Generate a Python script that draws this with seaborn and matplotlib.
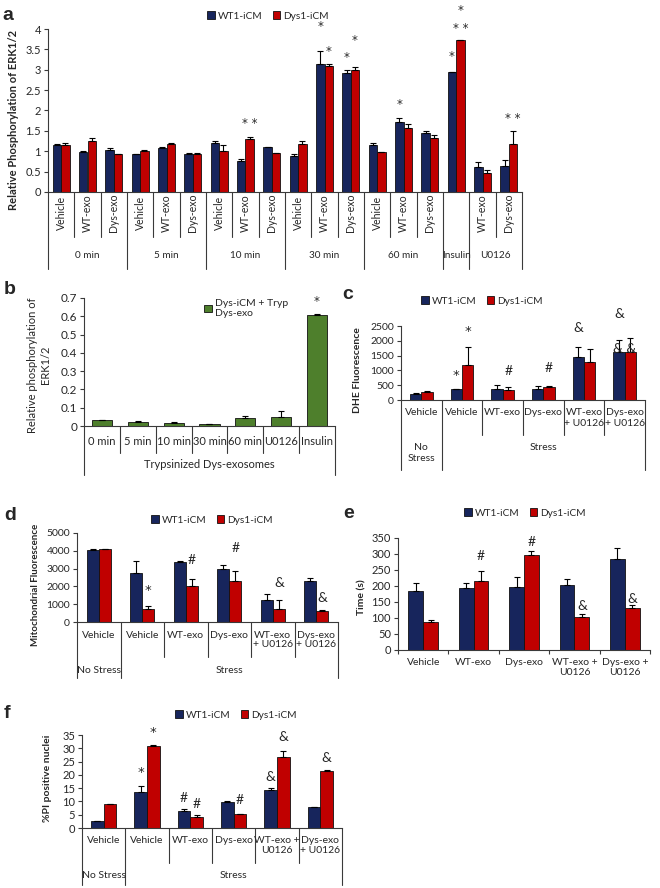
import numpy as np
import pandas as pd
import matplotlib
matplotlib.use("Agg")
import matplotlib.pyplot as plt
import seaborn as sns
from matplotlib.transforms import blended_transform_factory
from matplotlib.lines import Line2D
from matplotlib.ticker import FuncFormatter, FixedLocator, NullFormatter

# ------------------------------------------------------------------ data
SERIES = ["WT1-iCM", "Dys1-iCM"]

# panel a
a_groups = ["0 min", "5 min", "10 min", "30 min", "60 min", "Insulin", "U0126"]
a_group_sizes = [3, 3, 3, 3, 3, 1, 2]
a_sub = ["Vehicle", "WT-exo", "Dys-exo"] * 5 + [""] + ["WT-exo", "Dys-exo"]
a_wt = [1.15, 0.99, 1.03, 0.93, 1.08, 0.94, 1.21, 0.76, 1.10, 0.89, 3.14, 2.93,
        1.16, 1.73, 1.45, 2.94, 0.62, 0.64]
a_wt_err = [0.02, 0.01, 0.04, 0.0, 0.02, 0.01, 0.04, 0.04, 0.01, 0.04, 0.32, 0.07,
            0.04, 0.09, 0.05, 0.01, 0.11, 0.15]
a_dys = [1.15, 1.24, 0.93, 1.01, 1.19, 0.94, 1.01, 1.29, 0.95, 1.17, 3.09, 2.99,
         0.98, 1.58, 1.33, 3.73, 0.46, 1.19]
a_dys_err = [0.05, 0.08, 0.01, 0.01, 0.01, 0.01, 0.15, 0.05, 0.0, 0.08, 0.06, 0.08,
             0.0, 0.08, 0.06, 0.0, 0.08, 0.31]
a_marks = [(7, 1, "* *", 1.75), (10, 0, "*", 4.13), (10, 1, "*", 3.53),
           (11, 0, "*", 3.37), (11, 1, "*", 3.80), (13, 0, "*", 2.22),
           (15, 0, "*", 3.41), (15, 1, "* *", 4.08), (15, 1, "*", 4.54),
           (17, 1, "* *", 1.89)]

# panel b
b_cats = ["0 min", "5 min", "10 min", "30 min", "60 min", "U0126", "Insulin"]
b_series = "Dys-iCM + Tryp\nDys-exo"
b_vals = [0.032, 0.022, 0.017, 0.011, 0.043, 0.048, 0.607]
b_err = [0.003, 0.003, 0.003, 0.002, 0.010, 0.035, 0.003]
b_group = "Trypsinized Dys-exosomes"
b_marks = [(6, 0, "*", 0.695)]

# panels c, d, f share categories
cdf_groups_c = ["No\nStress", "Stress"]
cdf_groups = ["No Stress", "Stress"]
cdf_group_sizes = [1, 5]
c_sub = ["Vehicle", "Vehicle", "WT-exo", "Dys-exo", "WT-exo\n+ U0126", "Dys-exo\n+ U0126"]
f_sub = ["Vehicle", "Vehicle", "WT-exo", "Dys-exo", "WT-exo +\nU0126", "Dys-exo\n+ U0126"]

c_wt = [190, 357, 383, 383, 1464, 1622]
c_wt_err = [55, 23, 135, 90, 315, 405]
c_dys = [279, 1178, 349, 450, 1272, 1622]
c_dys_err = [22, 600, 100, 23, 462, 461]
c_marks = [(1, 0, "*", 970), (1, 1, "*", 2440), (2, 1, "#", 1013), (3, 1, "#", 1103),
           (4, 0, "&", 2455), (5, 0, "&", 2950), (5, None, "& &", 1745)]

d_wt = [4070, 2770, 3380, 2955, 1245, 2290]
d_wt_err = [20, 670, 40, 275, 300, 185]
d_dys = [4110, 725, 2025, 2305, 735, 615]
d_dys_err = [0, 185, 375, 575, 510, 55]
d_marks = [(1, 1, "*", 1955), (2, 1, "#", 3520), (3, 1, "#", 4190),
           (4, 1, "&", 2235), (5, 1, "&", 1400)]

e_cats = ["Vehicle", "WT-exo", "Dys-exo", "WT-exo +\nU0126", "Dys-exo +\nU0126"]
e_wt = [185, 195, 197, 204, 285]
e_wt_err = [23, 13, 32, 19, 34]
e_dys = [86, 216, 296, 104, 131]
e_dys_err = [8, 30, 13, 10, 11]
e_marks = [(1, 1, "#", 296), (2, 1, "#", 341), (3, 1, "&", 140), (4, 1, "&", 161)]

f_wt = [2.6, 13.6, 6.5, 9.7, 14.2, 8.0]
f_wt_err = [0.0, 2.1, 0.8, 0.5, 1.0, 0.0]
f_dys = [8.9, 30.9, 4.2, 5.4, 26.6, 21.6]
f_dys_err = [0.3, 0.2, 0.6, 0.0, 2.5, 0.2]
f_marks = [(1, 0, "*", 22.4), (1, 1, "*", 37.5), (2, 0, "#", 11.7), (2, 1, "#", 9.4),
           (3, 1, "#", 11.0), (4, 0, "&", 19.7), (4, 1, "&", 34.8), (5, 1, "&", 26.9)]

# ------------------------------------------------------------------ style
WT_COLOR = "#17255C"
DYS_COLOR = "#C00000"
GREEN = "#4E7F2C"
LINE = "#3a3a3a"

sns.set_style("white")
plt.rcParams["font.family"] = ["Lato", "DejaVu Sans"]
plt.rcParams["axes.linewidth"] = 0.8

W, H = 660, 888
fig = plt.figure(figsize=(W / 100, H / 100), dpi=100)


def add_ax(l, r, t, b):
    return fig.add_axes([l / W, 1 - b / H, (r - l) / W, (b - t) / H])


def fmt_num(v, pos):
    return f"{v:.2f}".rstrip("0").rstrip(".")


def long_df(keys, wt, dys):
    n = len(keys)
    return pd.DataFrame({"cat": list(keys) * 2,
                         "series": [SERIES[0]] * n + [SERIES[1]] * n,
                         "value": list(wt) + list(dys)})


def draw_bars(ax, df, keys, hue_order, palette, width, errs):
    sns.barplot(data=df, x="cat", y="value", hue="series", order=keys,
                hue_order=hue_order, palette=palette, width=width, gap=0,
                errorbar=None, saturation=1, edgecolor="#111111",
                linewidth=0.6, ax=ax)
    for cont, err in zip(ax.containers, errs):
        xs = [p.get_x() + p.get_width() / 2 for p in cont.patches]
        hs = [p.get_height() for p in cont.patches]
        ax.errorbar(xs, hs, yerr=[np.zeros(len(err)), err], fmt="none",
                    ecolor="black", elinewidth=0.8, capsize=2, capthick=0.8,
                    zorder=3)


def style_axis(ax, n, ymax, step, ysize):
    ax.set_xlim(-0.5, n - 0.5)
    ax.set_ylim(0, ymax)
    ax.set_yticks(np.arange(0, ymax + step / 2, step))
    ax.yaxis.set_major_formatter(FuncFormatter(fmt_num))
    sns.despine(ax=ax)
    for s in ("left", "bottom"):
        ax.spines[s].set_color(LINE)
        ax.spines[s].set_linewidth(0.8)
    ax.set_xlabel("")
    ax.set_ylabel("")
    ax.tick_params(axis="y", direction="out", length=3, width=0.8, color=LINE,
                   labelsize=ysize, pad=2, left=True)
    ax.tick_params(axis="x", length=0, labelbottom=False)


def cat_table(ax, n, sub_labels, sub_off, sub_line, groups, group_sizes,
              group_off, group_line, sub_kw, group_kw, sub_va="center"):
    ax_h = ax.get_position().height * H
    tr = blended_transform_factory(ax.transData, ax.transAxes)
    f = lambda px: -px / ax_h
    bounds = set(np.cumsum([0] + list(group_sizes)).tolist())
    for b in range(n + 1):
        L = group_line if b in bounds else sub_line
        ax.add_line(Line2D([b - 0.5, b - 0.5], [0, f(L)], transform=tr,
                           clip_on=False, color=LINE, lw=0.8))
    for i, lab in enumerate(sub_labels):
        ax.text(i, f(sub_off), lab, transform=tr, ha="center", va=sub_va,
                **sub_kw)
    start = 0
    for lab, s in zip(groups, group_sizes):
        ax.text(start + (s - 1) / 2, f(group_off), lab, transform=tr,
                ha="center", va="top", **group_kw)
        start += s


def marks(ax, items, fs):
    for i, h, txt, y in items:
        if h is None:
            x = i
        else:
            p = ax.containers[h].patches[i]
            x = p.get_x() + p.get_width() / 2
        star = txt.startswith("*")
        c = 0.55 if star else 0.36
        size = fs * 0.95 if star else fs
        fam = ["DejaVu Sans"] if star else ["Lato", "DejaVu Sans"]
        ax.annotate(txt, xy=(x, y), xytext=(0, -c * size), textcoords="offset points",
                    ha="center", va="baseline", fontsize=size, family=fam,
                    annotation_clip=False)


def legend(ax, x, y, fs=7.3, ncol=2, loc="center"):
    sns.move_legend(ax, loc, bbox_to_anchor=(x / W, 1 - y / H),
                    bbox_transform=fig.transFigure, ncol=ncol, frameon=False,
                    title=None, fontsize=fs, handlelength=0.75, handleheight=0.75,
                    handletextpad=0.3, columnspacing=1.0, borderpad=0,
                    borderaxespad=0)


def panel_letter(x, y, s):
    fig.text(x / W, 1 - y / H, s, fontsize=14, fontweight="bold",
             family=["Liberation Sans", "DejaVu Sans"], ha="left", va="center")


def ylabel(x, y, s, bold=True, fs=7.5):
    fig.text(x / W, 1 - y / H, s, rotation=90, ha="center", va="center",
             fontsize=fs, fontweight="bold" if bold else "normal",
             multialignment="center")


# ------------------------------------------------------------------ panel a
a_keys = [f"a{i}" for i in range(len(a_wt))]
ax = add_ax(48, 522, 29, 192)
draw_bars(ax, long_df(a_keys, a_wt, a_dys), a_keys, SERIES, [WT_COLOR, DYS_COLOR],
          0.64, [a_wt_err, a_dys_err])
style_axis(ax, len(a_keys), 4, 0.5, 8)
cat_table(ax, len(a_keys), a_sub, 21, 45, a_groups, a_group_sizes, 59, 77,
          dict(fontsize=7.6, rotation=90), dict(fontsize=7.2))
marks(ax, a_marks, 9)
legend(ax, 268, 16)
panel_letter(2, 16, "a")
ylabel(14, 120, "Relative Phosphorylation of ERK1/2", fs=8)

# ------------------------------------------------------------------ panel b
ax = add_ax(84, 335, 298, 426)
bdf = pd.DataFrame({"cat": b_cats, "series": [b_series] * len(b_cats),
                    "value": b_vals})
draw_bars(ax, bdf, b_cats, [b_series], [GREEN], 0.56, [b_err])
style_axis(ax, len(b_cats), 0.7, 0.1, 8.5)
cat_table(ax, len(b_cats), b_cats, 15, 27, [b_group], [len(b_cats)], 33, 49,
          dict(fontsize=8), dict(fontsize=8))
marks(ax, b_marks, 9)
sns.move_legend(ax, "upper left", bbox_to_anchor=(204 / W, 1 - 299 / H),
                bbox_transform=fig.transFigure, frameon=False, title=None,
                fontsize=7.5, handlelength=0.75, handleheight=0.75,
                handletextpad=0.3, borderpad=0, borderaxespad=0)
panel_letter(4, 290, "b")
ylabel(39, 365, "Relative phosphorylation of\nERK1/2", bold=False, fs=8)

# ------------------------------------------------------------------ panel c
c_keys = [f"c{i}" for i in range(len(c_wt))]
ax = add_ax(401, 645, 326, 400)
draw_bars(ax, long_df(c_keys, c_wt, c_dys), c_keys, SERIES, [WT_COLOR, DYS_COLOR],
          0.56, [c_wt_err, c_dys_err])
style_axis(ax, len(c_keys), 2500, 500, 7.5)
cat_table(ax, len(c_keys), c_sub, 8, 35, cdf_groups_c, cdf_group_sizes, 43, 70,
          dict(fontsize=7.5, linespacing=1.25), dict(fontsize=7.5, linespacing=1.25),
          sub_va="top")
marks(ax, c_marks, 10)
legend(ax, 482, 301)
panel_letter(342, 294, "c")
ylabel(357, 370, "DHE Fluorescence", fs=7.5)

# ------------------------------------------------------------------ panel d
d_keys = [f"d{i}" for i in range(len(d_wt))]
ax = add_ax(77, 338, 533, 622)
draw_bars(ax, long_df(d_keys, d_wt, d_dys), d_keys, SERIES, [WT_COLOR, DYS_COLOR],
          0.56, [d_wt_err, d_dys_err])
style_axis(ax, len(d_keys), 5000, 1000, 7.5)
cat_table(ax, len(d_keys), c_sub, 9, 35, cdf_groups, cdf_group_sizes, 44, 56,
          dict(fontsize=7.5, linespacing=1.0), dict(fontsize=7.5), sub_va="top")
marks(ax, d_marks, 10)
legend(ax, 212, 520)
panel_letter(4, 515, "d")
ylabel(35, 585, "Mitochondrial Fluorescence", fs=7)

# ------------------------------------------------------------------ panel e
e_keys = [f"e{i}" for i in range(len(e_wt))]
ax = add_ax(398, 650, 538, 650)
draw_bars(ax, long_df(e_keys, e_wt, e_dys), e_keys, SERIES, [WT_COLOR, DYS_COLOR],
          0.59, [e_wt_err, e_dys_err])
style_axis(ax, len(e_keys), 350, 50, 8)
ax.set_xticks(range(len(e_keys)))
ax.set_xticklabels(e_cats, fontsize=7.5, linespacing=1.15)
ax.xaxis.set_minor_locator(FixedLocator(np.arange(len(e_keys) + 1) - 0.5))
ax.xaxis.set_minor_formatter(NullFormatter())
ax.tick_params(axis="x", which="major", length=0, pad=6, labelbottom=True)
ax.tick_params(axis="x", which="minor", length=3, width=0.8, color=LINE,
               direction="out", bottom=True)
marks(ax, e_marks, 10)
legend(ax, 525, 513)
panel_letter(343, 514, "e")
ylabel(362, 597, "Time (s)", fs=7.5)

# ------------------------------------------------------------------ panel f
f_keys = [f"f{i}" for i in range(len(f_wt))]
ax = add_ax(82, 342, 735, 828)
draw_bars(ax, long_df(f_keys, f_wt, f_dys), f_keys, SERIES, [WT_COLOR, DYS_COLOR],
          0.58, [f_wt_err, f_dys_err])
style_axis(ax, len(f_keys), 35, 5, 8)
cat_table(ax, len(f_keys), f_sub, 8, 35, cdf_groups, cdf_group_sizes, 43, 57,
          dict(fontsize=7.5, linespacing=1.2), dict(fontsize=7.5), sub_va="top")
marks(ax, f_marks, 10)
legend(ax, 236, 715)
panel_letter(4, 713, "f")
ylabel(47, 778, "%PI positive nuclei", fs=7.5)

fig.savefig("out.png", dpi=100)
